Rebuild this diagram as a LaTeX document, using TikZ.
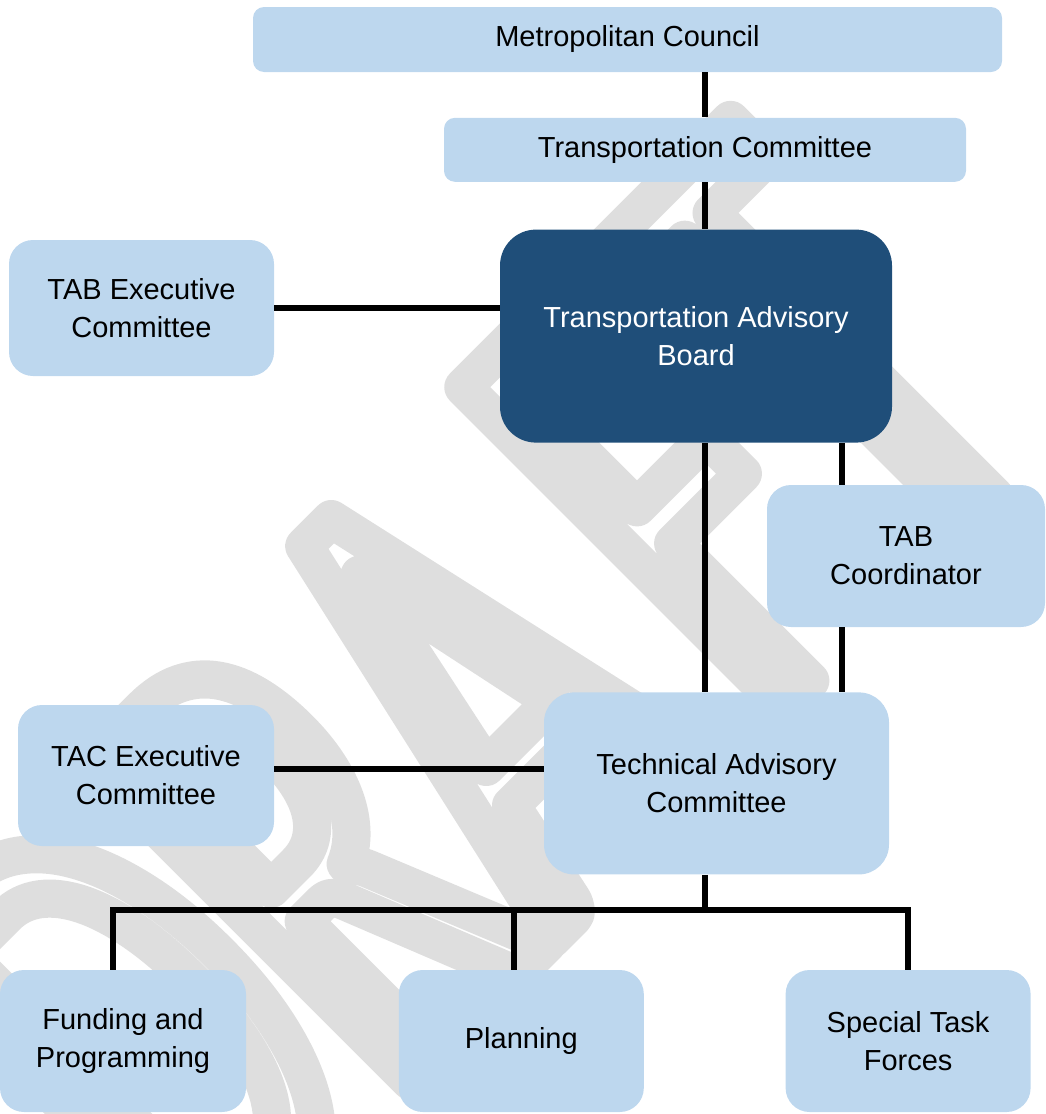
\documentclass[tikz,border=0pt]{standalone}
\usepackage{fontspec}
\setmainfont{Liberation Sans}
\newfontfamily\draftfont[FakeStretch=0.6]{Carlito}
\usetikzlibrary{positioning}
\definecolor{colorBox}{RGB}{189,215,238}
\definecolor{colorBoard}{RGB}{31,78,121}
\definecolor{colorDraft}{RGB}{222,222,222}

\begin{document}
\begin{tikzpicture}[
    x=0.5pt, y=-0.5pt,
    box/.style={rectangle, rounded corners=12pt, fill=colorBox, align=center, inner sep=0pt,
                font=\fontsize{14.5}{19}\selectfont},
    line/.style={line width=3pt, color=black},
    draft/.style={text=colorDraft, inner sep=0pt, anchor=base west, rotate=45,
                  font=\draftfont\fontsize{353}{353}\selectfont}
]
\useasboundingbox (0,0) rectangle (1045,1114);

% Watermark, one letter at a time along the diagonal
\begin{scope}
    \clip (0,0) rectangle (1045,1114);
    \begin{scope}[shift={(551,940)}, rotate=45]
        \foreach \ch/\off in {D/-491, R/-230, A/0, F/300, T/505}
            \node[draft] (Draft\ch) at (\off,0)
                {\special{pdf:code 1 Tr 19 w 1 j 0.871 0.871 0.871 RG}\ch\special{pdf:code 0 Tr}};
    \end{scope}
\end{scope}

% Council and committee nodes
\node[box, minimum width=374.5pt, minimum height=32.5pt, rounded corners=5.5pt] (Council) at (627.5,39.5) {Metropolitan Council};
\node[box, minimum width=261pt, minimum height=32pt, rounded corners=5.5pt, below=22.5pt of Council, xshift=38.75pt] (TransComm) {Transportation Committee};

% Board nodes
\node[box, fill=colorBoard, text=white, minimum width=196pt, minimum height=106.5pt, rounded corners=18pt,
      below=23.5pt of TransComm, xshift=-4.5pt] (TAB) {Transportation Advisory\\Board};
\node[box, minimum width=132.5pt, minimum height=68pt] (TABExec) at (141.5,308) {TAB Executive\\Committee};
\node[box, minimum width=139pt, minimum height=71pt] (Coord) at (906,556) {TAB\\Coordinator};

% Technical committee nodes
\node[box, minimum width=172.5pt, minimum height=91pt, rounded corners=15pt,
      below=124.5pt of TAB, xshift=10.25pt] (TAC) {Technical Advisory\\Committee};
\node[box, minimum width=128pt, minimum height=70.5pt] (TACExec) at (146,775.5) {TAC Executive\\Committee};

% Bottom row nodes
\node[box, minimum width=123pt, minimum height=71pt] (Funding) at (123,1041) {Funding and\\Programming};
\node[box, minimum width=122.5pt, minimum height=71pt, right=76pt of Funding] (Planning) {Planning};
\node[box, minimum width=122.5pt, minimum height=71pt, right=70.5pt of Planning] (TaskForces) {Special Task\\Forces};

% Connectors
\coordinate (Spine) at (705,0);
\coordinate (Link) at (842,0);
\coordinate (Bar) at (0,910);

\draw[line] (Council.south -| Spine) -- (TransComm.north -| Spine);
\draw[line] (TransComm.south -| Spine) -- (TAB.north -| Spine);
\draw[line] (TAB.south -| Spine) -- (TAC.north -| Spine);
\draw[line] (TAB.south -| Link) -- (Coord.north -| Link);
\draw[line] (Coord.south -| Link) -- (TAC.north -| Link);
\draw[line] (TABExec.east) -- (TABExec.east -| TAB.west);
\draw[line] ([yshift=3.25pt]TACExec.east) -- ([yshift=3.25pt]TACExec.east -| TAC.west);

\draw[line] (TAC.south -| Spine) -- (Bar -| Spine);
\draw[line] ([xshift=-5pt]Funding.north) |- (TaskForces.north |- Bar) -- (TaskForces.north);
\draw[line] ([xshift=-3.75pt]Planning.north) -- ([xshift=-3.75pt]Planning.north |- Bar);

\end{tikzpicture}
\end{document}
